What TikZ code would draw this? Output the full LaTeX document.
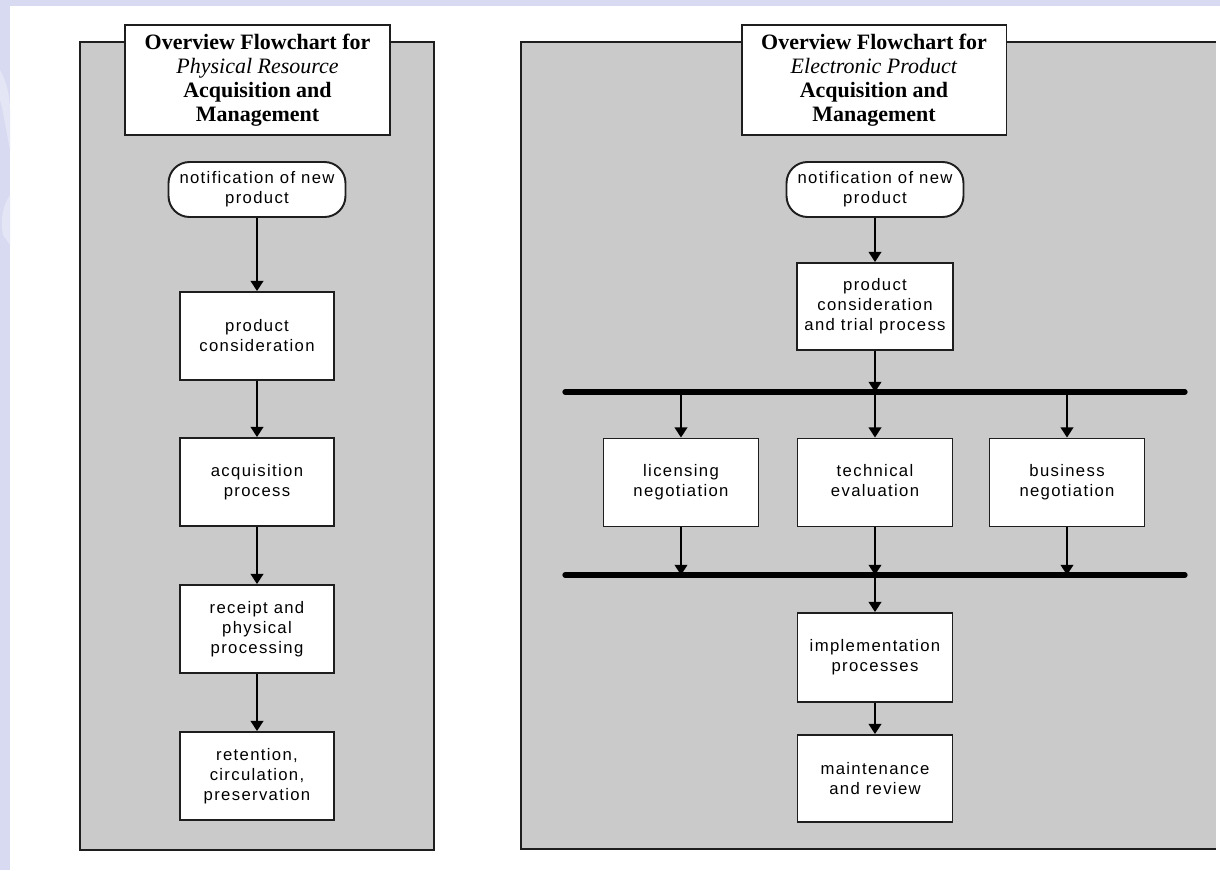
\documentclass[tikz,border=0pt]{standalone}
\usepackage{fontspec}
\setmainfont{Liberation Serif}
\newfontfamily\boxfont{Liberation Sans}[LetterSpace=8]
\usepackage{tikz}
\usetikzlibrary{arrows.meta, positioning}
\definecolor{panelgray}{HTML}{CACACA}
\definecolor{lavender}{HTML}{D7DAF0}
\definecolor{lavlight}{HTML}{E4E6F6}
\definecolor{edge}{HTML}{1E1E1E}
\tikzset{>={Triangle[length=5.8pt,width=7.2pt]}}

\begin{document}
\begin{tikzpicture}[x=0.02cm,y=-0.02cm,
    panel/.style={fill=panelgray,draw=edge,line width=1.2pt},
    titlebox/.style={draw=edge,fill=white,line width=1.1pt,minimum width=5.3cm,minimum height=2.2cm,align=center,font=\fontsize{12.5}{13.7}\selectfont,inner sep=0pt},
    stepbox/.style={draw=edge,fill=white,line width=1.1pt,minimum width=3.08cm,minimum height=1.76cm,align=center,font=\boxfont\fontsize{9.5}{11.4}\selectfont,inner sep=0pt},
    termbox/.style={stepbox,rounded corners=0.42cm,minimum width=3.54cm,minimum height=1.1cm},
    bus/.style={line width=3pt,line cap=round},
    flow/.style={->,line width=1.1pt}]
            \useasboundingbox (0,0) rectangle (1220,870);
            \fill[white] (0,0) rectangle (1220,870);
            \fill[lavender] (0,0) rectangle (1220,6);
            \fill[lavender] (0,0) rectangle (10,870);
            \fill[lavlight] (0,70) .. controls (6,80) and (10,95) .. (10,110) -- (10,150) .. controls (6,130) and (3,110) .. (0,100) -- cycle;
            \fill[lavlight] (10,195) .. controls (3,205) and (0,220) .. (3,235) -- (10,245) -- cycle;

            \draw[panel] (80,42) rectangle (434,850);
            \fill[panelgray] (521,42) rectangle (1216,849);
            \draw[edge,line width=1.2pt] (1216,42) -- (521,42) -- (521,849) -- (1216,849);

            \node[titlebox] (ltitle) at (257.5,80) {\textbf{Overview Flowchart for}\\\textit{Physical Resource}\\\textbf{Acquisition and}\\\textbf{Management}};
            \node[termbox] (lnote) at (257,189.5) {notification of new\\product};
            \node[stepbox] (lcons) at (257,336) {product\\consideration};
            \node[stepbox] (lacq) at (257,482) {acquisition\\process};
            \node[stepbox] (lrec) at (257,629) {receipt and\\physical\\processing};
            \node[stepbox] (lret) at (257,776) {retention,\\circulation,\\preservation};

            \draw[flow] (lnote) -- (lcons);
            \draw[flow] (lcons) -- (lacq);
            \draw[flow] (lacq) -- (lrec);
            \draw[flow] (lrec) -- (lret);

            \node[titlebox] (rtitle) at (874,80) {\textbf{Overview Flowchart for}\\\textit{Electronic Product}\\\textbf{Acquisition and}\\\textbf{Management}};
            \node[termbox] (rnote) at (875,189.5) {notification of new\\product};
            \node[stepbox,minimum width=3.12cm,minimum height=1.74cm] (rcons) at (875,306.5) {product\\consideration\\and trial process};

            \coordinate (busAw) at (565,392);
            \coordinate (busAe) at (1185,392);
            \coordinate (busAl) at (681,392);
            \coordinate (busAc) at (875,392);
            \coordinate (busAr) at (1067,392);
            \draw[bus] (busAw) -- (busAe);

            \node[stepbox,minimum width=3.1cm] (rlic) at (681,482.5) {licensing\\negotiation};
            \node[stepbox,minimum width=3.1cm] (rtech) at (875,482.5) {technical\\evaluation\vphantom{g}};
            \node[stepbox,minimum width=3.1cm] (rbus) at (1067,482.5) {business\\negotiation};

            \coordinate (busBw) at (565,575);
            \coordinate (busBe) at (1185,575);
            \coordinate (busBl) at (681,575);
            \coordinate (busBc) at (875,575);
            \coordinate (busBr) at (1067,575);
            \draw[bus] (busBw) -- (busBe);

            \node[stepbox,minimum width=3.1cm,minimum height=1.78cm] (rimpl) at (875,657.5) {implementation\\processes};
            \node[stepbox,minimum width=3.1cm,minimum height=1.74cm] (rmaint) at (875,778.5) {maintenance\\and review};

            \draw[flow] (rnote) -- (rcons);
            \draw[flow] (rcons) -- (busAc);
            \draw[flow] (busAl) -- (rlic);
            \draw[flow] (busAc) -- (rtech);
            \draw[flow] (busAr) -- (rbus);
            \draw[flow] (rlic) -- (busBl);
            \draw[flow] (rtech) -- (busBc);
            \draw[flow] (rbus) -- (busBr);
            \draw[flow] (busBc) -- (rimpl);
            \draw[flow] (rimpl) -- (rmaint);

            \end{tikzpicture}
\end{document}
